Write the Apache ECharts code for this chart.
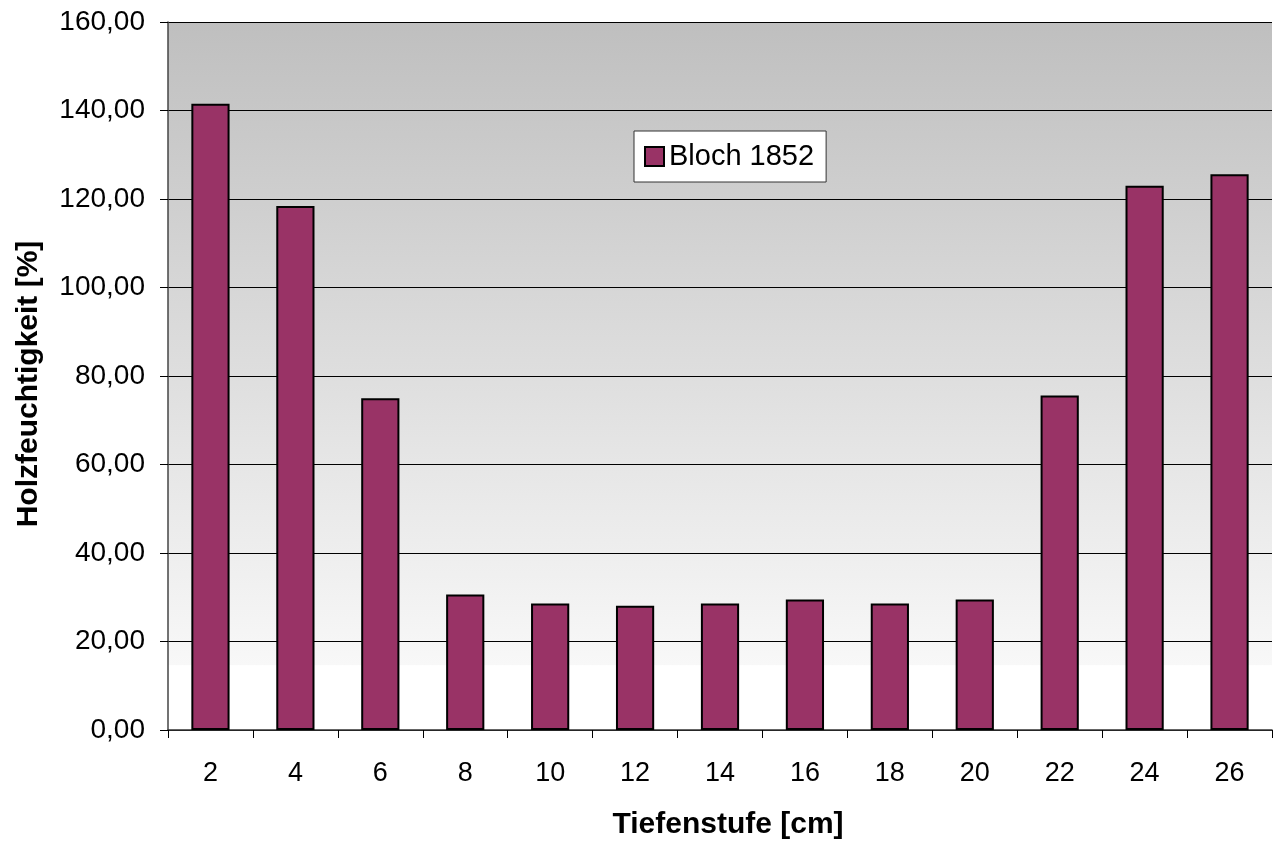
<!DOCTYPE html>
<html><head><meta charset="utf-8">
<script src="https://cdn.jsdelivr.net/npm/echarts@6/dist/echarts.min.js"></script>
<style>html,body{margin:0;padding:0;background:#fff}#c{width:1274px;height:845px}</style>
</head><body><div id="c"></div>
<script>
const categories = ['2','4','6','8','10','12','14','16','18','20','22','24','26'];
const values = [141.5, 118.4, 75.0, 30.6, 28.6, 28.1, 28.6, 29.5, 28.6, 29.5, 75.6, 123.0, 125.6];
const seriesName = 'Bloch 1852';

const chart = echarts.init(document.getElementById('c'));
chart.setOption({
  animation: false,
  textStyle: { fontFamily: 'Liberation Sans, Arial, sans-serif' },
  grid: {
    left: 168, top: 22, width: 1104, height: 711,
    show: true, borderWidth: 0,
    backgroundColor: {
      type: 'linear', x: 0, y: 0, x2: 0, y2: 1,
      colorStops: [
        { offset: 0, color: '#bfbfbf' },
        { offset: 0.908, color: '#f8f8f8' },
        { offset: 0.909, color: '#ffffff' },
        { offset: 1, color: '#ffffff' }
      ]
    }
  },
  legend: {
    data: [{ name: seriesName, icon: 'rect' }],
    left: 634, top: 131,
    padding: [11, 12, 11, 10],
    backgroundColor: '#fff',
    borderColor: '#333', borderWidth: 1,
    itemWidth: 19, itemHeight: 19, itemGap: 4,
    textStyle: { fontSize: 29, color: '#000', fontFamily: 'Liberation Sans, Arial, sans-serif' }
  },
  xAxis: {
    type: 'category', data: categories,
    name: 'Tiefenstufe [cm]', nameLocation: 'middle', nameGap: 80,
    nameTextStyle: { fontSize: 30, fontWeight: 'bold', color: '#000', padding: [0, 0, 0, 16] },
    axisLine: { lineStyle: { color: '#333', width: 1.5 } },
    axisTick: { show: true, length: 8, lineStyle: { color: '#000' } },
    axisLabel: { fontSize: 27, color: '#000', margin: 30 }
  },
  yAxis: {
    type: 'value', min: 0, max: 160, interval: 20,
    name: 'Holzfeuchtigkeit [%]', nameLocation: 'middle', nameGap: 124, nameRotate: 90,
    nameTextStyle: { fontSize: 30, fontWeight: 'bold', color: '#000', padding: [0, 16, 0, 0] },
    axisLine: { show: true, lineStyle: { color: '#444', width: 1.5 } },
    axisTick: { show: true, length: 8, lineStyle: { color: '#000' } },
    axisLabel: { fontSize: 28, color: '#000', margin: 23, formatter: v => v.toFixed(2).replace('.', ',') },
    splitLine: { show: true, lineStyle: { color: '#000', width: 1 } }
  },
  series: [{
    name: seriesName, type: 'bar', data: values,
    barWidth: '45%',
    itemStyle: { color: '#993366', borderColor: '#000', borderWidth: 2 }
  }]
});
</script></body></html>
